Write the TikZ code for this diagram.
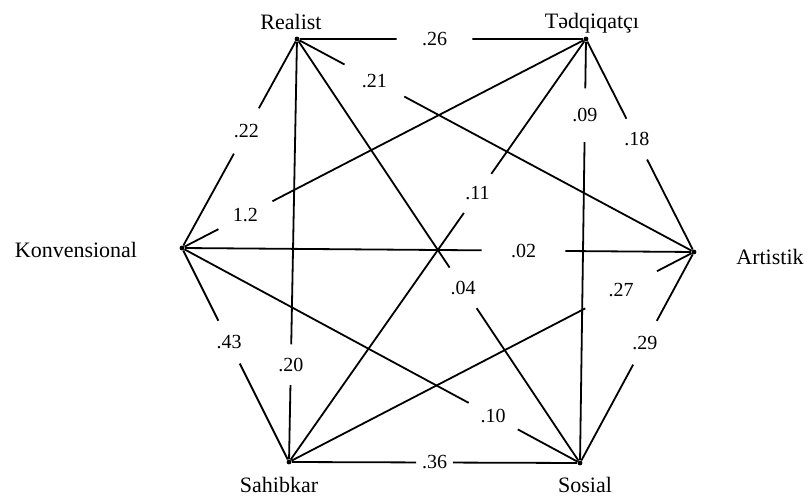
\documentclass[tikz,border=0pt]{standalone}
\usepackage{fontspec}
\setmainfont{Liberation Serif}
\usepackage{tikz}
\usetikzlibrary{calc}
\tikzset{
  % hexagon
  hv/.style={circle,fill=black,inner sep=0pt,minimum size=2.4pt},
  hn/.style={anchor=base,inner sep=0pt,font=\fontsize{11}{13}\selectfont},
  he/.style={draw=black,line width=0.9pt},
  hw/.style={circle,inner sep=0pt,minimum size=#1,font=\fontsize{10}{12}\selectfont},
}
\begin{document}
\begin{tikzpicture}[x=0.5pt,y=-0.5pt]
  \useasboundingbox (0,0) rectangle (808,496);
  \node[hv] (rea) at (297,39) {};
  \node[hv] (ted) at (586,39) {};
  \node[hv] (kon) at (182,248) {};
  \node[hv] (art) at (694,252) {};
  \node[hv] (sah) at (289,462) {};
  \node[hv] (sos) at (580,463) {};
  \node[hn] (trea) at (291,30) {Realist};
  \node[hn] (tted) at (592,29) {Tədqiqatçı};
  \node[hn] (tkon) at (76,258) {Konvensional};
  \node[hn] (tart) at (770,265) {Artistik};
  \node[hn] (tsah) at (279,492) {Sahibkar};
  \node[hn] (tsos) at (585,492) {Sosial};
  % weights
  \node[hw=37.5pt] (w26) at ($(rea)!0.476!(ted)$) {.26};
  \node[hw=33.5pt] (w21) at ($(rea)!0.195!(art)$) {.21};
  \node[hw=25.5pt] (w22) at ($(rea)!0.44!(kon)$) {.22};
  \node[hw=20pt] (w20) at ($(rea)!0.77!(sah)$) {.20};
  \node[hw=24pt] (w04) at ($(rea)!0.587!(sos)$) {.04};
  \node[hw=30pt] (w12) at ($(ted)!0.843!(kon)$) {1.2};
  \node[hw=23.5pt] (w11) at ($(ted)!0.365!(sah)$) {.11};
  \node[hw=26.5pt] (w09) at ($(ted)!0.18!(sos)$) {.09};
  \node[hw=22.5pt] (w18) at ($(ted)!0.47!(art)$) {.18};
  \node[hw=41.5pt] (w02) at ($(kon)!0.667!(art)$) {.02};
  \node[hw=23.5pt] (w43) at ($(kon)!0.44!(sah)$) {.43};
  \node[hw=27.5pt] (w10) at ($(kon)!0.782!(sos)$) {.10};
  \node[hw=40pt] (w27) at ($(sah)!0.82!(art)$) {.27};
  \node[hw=18pt] (w36) at ($(sah)!0.5!(sos)$) {.36};
  \node[hw=24.5pt] (w29) at ($(art)!0.43!(sos)$) {.29};
  \draw[he] (rea) -- (w26) -- (ted);
  \draw[he] (rea) -- (w21) -- (art);
  \draw[he] (rea) -- (w22) -- (kon);
  \draw[he] (rea) -- (w20) -- (sah);
  \draw[he] (rea) -- (w04) -- (sos);
  \draw[he] (ted) -- (w12) -- (kon);
  \draw[he] (ted) -- (w11) -- (sah);
  \draw[he] (ted) -- (w09) -- (sos);
  \draw[he] (ted) -- (w18) -- (art);
  \draw[he] (kon) -- (w02) -- (art);
  \draw[he] (kon) -- (w43) -- (sah);
  \draw[he] (kon) -- (w10) -- (sos);
  \draw[he] (sah) -- (w27) -- (art);
  \draw[he] (sah) -- (w36) -- (sos);
  \draw[he] (art) -- (w29) -- (sos);
\end{tikzpicture}
\end{document}
